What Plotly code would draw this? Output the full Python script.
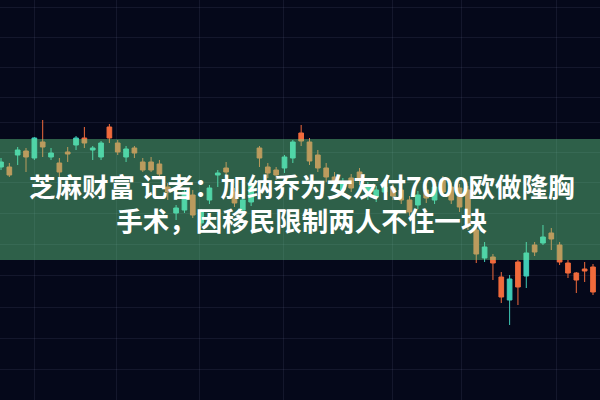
import plotly.graph_objects as go

# Candle index (trading sessions) and OHLC values
idx = list(range(72))
opens = [233, 233, 245, 249, 242, 258, 243, 237, 248, 255, 262, 250, 243, 273, 257, 243, 252, 238, 238, 236,
         213, 187, 190, 205, 177, 200, 225, 232, 208, 190, 198, 252, 233, 230, 232, 242, 267, 258, 245, 232,
         223, 210, 222, 228, 205, 203, 208, 212, 210, 200, 195, 210, 200, 220, 213, 212, 210, 170, 142, 143,
         123, 100, 138, 124, 155, 157, 167, 155, 137, 127, 131, 133]
highs = [242, 237, 253, 252, 263, 280, 252, 242, 253, 264, 273, 254, 259, 276, 260, 254, 254, 242, 243, 240,
         217, 195, 212, 210, 191, 215, 230, 238, 212, 205, 220, 254, 237, 233, 245, 260, 275, 262, 250, 237,
         228, 222, 226, 232, 218, 214, 217, 216, 214, 204, 209, 214, 217, 224, 217, 216, 214, 174, 158, 146,
         128, 125, 140, 158, 158, 175, 172, 158, 140, 128, 138, 136]
lows = [230, 223, 235, 228, 240, 243, 240, 223, 238, 250, 252, 240, 240, 257, 245, 238, 242, 228, 228, 222,
        200, 180, 187, 182, 174, 196, 213, 223, 193, 186, 194, 233, 222, 220, 227, 237, 254, 235, 228, 218,
        212, 205, 208, 215, 200, 198, 202, 200, 196, 184, 191, 197, 196, 204, 196, 188, 170, 137, 138, 120,
        97, 75, 95, 112, 144, 155, 150, 135, 122, 107, 118, 105]
closes = [238, 225, 250, 243, 262, 253, 247, 228, 246, 262, 257, 252, 257, 262, 248, 251, 247, 230, 230, 226,
          208, 192, 208, 185, 188, 212, 227, 228, 197, 200, 215, 242, 227, 225, 243, 258, 259, 239, 232, 223,
          218, 218, 212, 220, 215, 210, 213, 204, 200, 188, 205, 202, 213, 208, 200, 193, 175, 146, 153, 137,
          103, 121, 113, 147, 148, 163, 161, 138, 127, 120, 129, 108]

grid_x = [3.96, 13.9, 23.75, 33.9, 47.0, 55.2, 66.6]
grid_y = [31, 62, 93, 125, 156, 187, 218, 248, 278, 303, 333, 363, 393]

title_lines = ["芝麻财富 记者：加纳乔为女友付7000欧做隆胸", "手术，因移民限制两人不住一块"]

fig = go.Figure(go.Candlestick(
    x=idx, open=opens, high=highs, low=lows, close=closes,
    increasing=dict(line=dict(color="#3fcab6", width=1), fillcolor="#3fcab6"),
    decreasing=dict(line=dict(color="#f06a3c", width=1), fillcolor="#f06a3c"),
    hoverinfo="skip",
))

fig.update_layout(
    width=600, height=400,
    margin=dict(l=0, r=0, t=0, b=0),
    paper_bgcolor="#05081a", plot_bgcolor="#05081a",
    showlegend=False,
    boxgap=0.2,
    xaxis=dict(range=[-0.12, 71.84], rangeslider=dict(visible=False), showticklabels=False,
               tickvals=grid_x, showgrid=True, gridcolor="rgba(120,130,170,0.13)", gridwidth=1,
               zeroline=False, showline=False, fixedrange=True),
    yaxis=dict(range=[0, 400], showticklabels=False, tickvals=grid_y, showgrid=True,
               gridcolor="rgba(120,130,170,0.13)", gridwidth=1, zeroline=False, showline=False,
               fixedrange=True),
    shapes=[dict(type="rect", xref="paper", yref="paper", x0=0, x1=1, y0=0.35, y1=0.6525,
                 fillcolor="rgba(108,230,145,0.4)", line=dict(width=0), layer="above")],
    annotations=[
        dict(text="<br>".join(title_lines), xref="paper", yref="paper", x=0.503, y=1 - 202.5 / 400,
             showarrow=False, xanchor="center", yanchor="middle", align="center",
             font=dict(family="Noto Sans CJK SC", size=26.5, color="white", weight="bold")),
    ],
)

fig.write_html("out.html", config={"displayModeBar": False},
               post_script="document.body.style.margin='0';document.body.style.overflow='hidden';"
                           "document.body.style.background='#05081a';")
